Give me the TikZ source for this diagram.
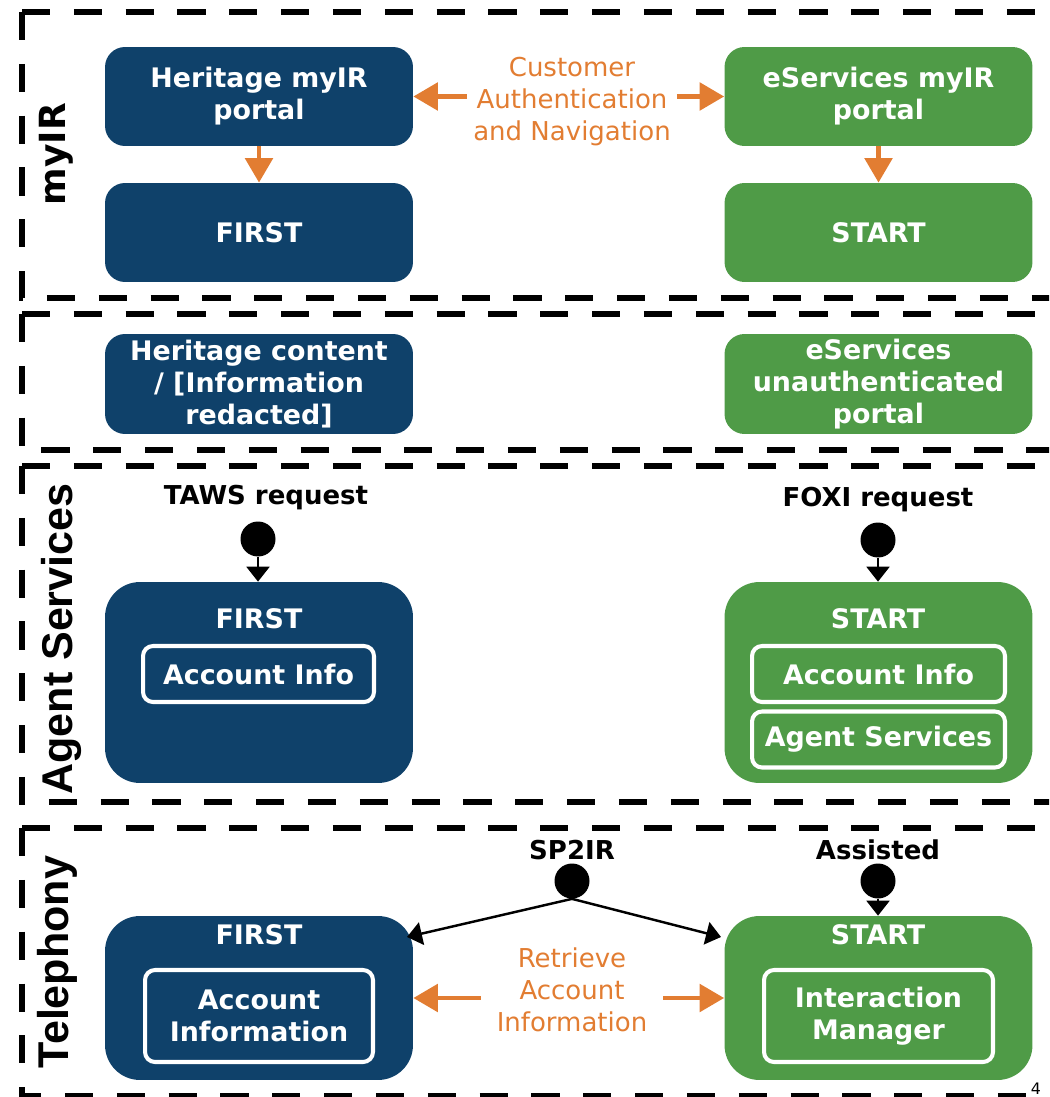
\documentclass[tikz,border=0pt]{standalone}
\usepackage{fontspec}
\setmainfont{DejaVu Sans}
\newfontfamily\lanefont{Liberation Sans}
\usetikzlibrary{arrows.meta}

\definecolor{irblue}{HTML}{0F416A}
\definecolor{irgreen}{HTML}{4F9B47}
\definecolor{irorange}{HTML}{E27D32}

\newcommand{\boxsize}{\fontsize{15.3}{18.2}\selectfont}
\newcommand{\labelsize}{\fontsize{14.8}{18.2}\selectfont}

\tikzset{
	lane/.style={line width=3.4pt,dash pattern=on 16pt off 13.5pt},
	block/.style={rectangle,rounded corners=0.4cm,minimum width=6.16cm,minimum height=1.98cm,text=white,font=\bfseries\boxsize,align=center,inner sep=2pt},
	heritage/.style={block,fill=irblue},
	eservices/.style={block,fill=irgreen},
	subbox/.style={rectangle,rounded corners=0.2cm,draw=white,line width=2.3pt,text=white,font=\bfseries\boxsize,align=center,minimum height=1.12cm},
	boxtitle/.style={text=white,font=\bfseries\boxsize,anchor=base},
	orangetext/.style={text=irorange,font=\labelsize,align=center},
	orangearrow/.style={irorange,line width=2.8pt,-{Triangle[length=14pt,width=15.5pt]}},
	request/.style={font=\bfseries\labelsize,anchor=base},
	startdot/.style={circle,fill=black,minimum size=0.7cm,inner sep=0pt},
	flow/.style={black,line width=1.4pt,-{Triangle[length=8.5pt,width=13pt]}},
	lanelabel/.style={rotate=90,anchor=base,font=\lanefont\bfseries\fontsize{24.5}{28}\selectfont}
}

\begin{document}
\begin{tikzpicture}[x=0.02cm,y=-0.02cm]
	\useasboundingbox (0,0) rectangle (1049,1097);
	\clip (0,0) rectangle (1049,1097);

	% lanes
	\foreach \ya/\yb in {12/298, 314/450, 466/802, 828/1096}{
		\draw[lane] (22,\ya) -- (1060,\ya);
		\draw[lane] (22,\ya) -- (22,\yb) -- (1060,\yb);
	}
	\node[lanelabel,font=\bfseries\fontsize{20.5}{24}\selectfont] (lanemyir) at (65,154) {myIR};
	\node[lanelabel] (laneagent) at (72,639) {Agent Services};
	\node[lanelabel] (lanetel) at (68,962) {Telephony};

	% myIR
	\node[heritage] (hmyir) at (259,96.5) {Heritage myIR\\portal};
	\node[heritage] (hfirst) at (259,232.5) {FIRST};
	\node[eservices] (emyir) at (878.5,96.5) {eServices myIR\\portal};
	\node[eservices] (estart) at (878.5,232.5) {START};
	\node[orangetext] (custlbl) at (572,102) {Customer\\Authentication\\and Navigation};
	\draw[orangearrow] (custlbl.west |- hmyir.east) -- (hmyir.east);
	\draw[orangearrow] (custlbl.east |- emyir.west) -- (emyir.west);
	\draw[orangearrow] (hmyir.south) -- (hfirst.north);
	\draw[orangearrow] (emyir.south) -- (estart.north);

	% unauthenticated
	\node[heritage,minimum height=2cm] (hcontent) at (259,384) {Heritage content\\/ [Information\\redacted]};
	\node[eservices,minimum height=2cm] (eunauth) at (878.5,384) {eServices\\unauthenticated\\portal};

	% agent services
	\node[heritage,minimum height=4.02cm,rounded corners=0.7cm] (afirst) at (259,682.5) {};
	\node[boxtitle] (afirstlbl) at (259,628) {FIRST};
	\node[subbox,minimum width=4.62cm] (afirstinfo) at (258.5,674) {Account Info};
	\node[eservices,minimum height=4.02cm,rounded corners=0.7cm] (astart) at (878.5,682.5) {};
	\node[boxtitle] (astartlbl) at (878,628) {START};
	\node[subbox,minimum width=5.06cm] (astartinfo) at (878.5,674) {Account Info};
	\node[subbox,minimum width=5.06cm] (astartagent) at (878.5,739.5) {Agent Services};

	\node[request] (tawslbl) at (266,504) {TAWS request};
	\node[startdot] (tawsdot) at (258,539) {};
	\draw[flow] (tawsdot) -- (tawsdot |- afirst.north);
	\node[request] (foxilbl) at (878,506) {FOXI request};
	\node[startdot] (foxidot) at (878,540) {};
	\draw[flow] (foxidot) -- (foxidot |- astart.north);

	% telephony
	\node[heritage,minimum height=3.28cm,rounded corners=0.7cm] (tfirst) at (259,998) {};
	\node[boxtitle] (tfirstlbl) at (259,944) {FIRST};
	\node[subbox,minimum width=4.56cm,minimum height=1.84cm] (tfirstinfo) at (259,1016) {Account\\Information};
	\node[eservices,minimum height=3.28cm,rounded corners=0.7cm] (tstart) at (878.5,998) {};
	\node[boxtitle] (tstartlbl) at (878,944) {START};
	\node[subbox,minimum width=4.58cm,minimum height=1.84cm] (tstartim) at (878.5,1016) {Interaction\\Manager};

	\node[orangetext,inner xsep=9pt] (retrlbl) at (572,990) {Retrieve\\Account\\Information};
	\draw[orangearrow] (retrlbl.west |- tfirst.east) -- (tfirst.east);
	\draw[orangearrow] (retrlbl.east |- tstart.west) -- (tstart.west);

	\node[request] (sp2irlbl) at (572,859) {SP2IR};
	\node[startdot] (sp2irdot) at (572,881) {};
	\coordinate (sp2irL) at (407,937);
	\coordinate (sp2irR) at (721,937);
	\draw[flow] (sp2irdot.south) -- (sp2irL);
	\draw[flow] (sp2irdot.south) -- (sp2irR);
	\node[request] (assistlbl) at (878,859) {Assisted};
	\node[startdot] (assistdot) at (878,881) {};
	\draw[flow] (assistdot) -- (assistdot |- tstart.north);

	\node[font=\fontsize{9}{10}\selectfont,anchor=base] (pagenum) at (1036,1094) {4};
\end{tikzpicture}
\end{document}
